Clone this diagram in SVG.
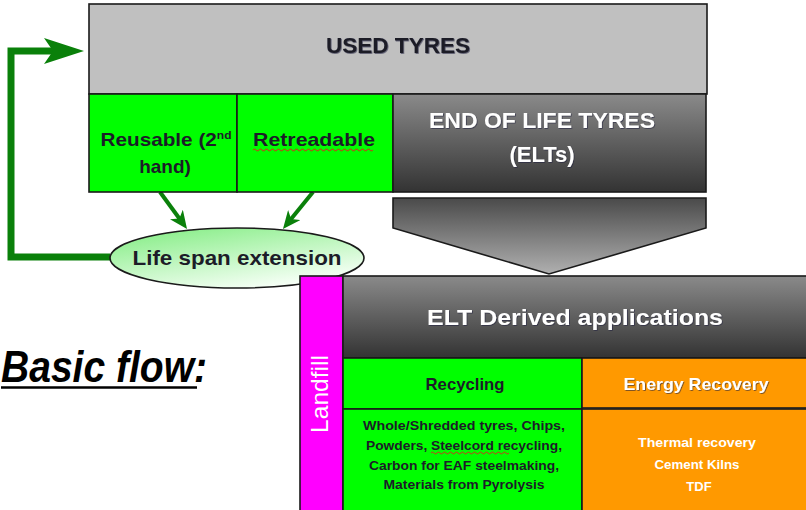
<svg xmlns="http://www.w3.org/2000/svg" width="806" height="510" viewBox="0 0 806 510">
<style>
.b{stroke:#1a1a1a;stroke-width:1.6}
.t{font-family:"Liberation Sans",Arial,sans-serif;font-weight:bold;text-anchor:middle}
.dk{fill:#1c1c28}
.wh{fill:#ffffff}
.conn{fill:none;stroke:#0a800a}
</style>
<defs>
<linearGradient id="gDark" x1="0" y1="0" x2="0" y2="1">
<stop offset="0" stop-color="#8a8a8a"/><stop offset="1" stop-color="#333333"/>
</linearGradient>
<linearGradient id="gChev" x1="0" y1="0" x2="0" y2="1">
<stop offset="0" stop-color="#4a4a4a"/><stop offset="1" stop-color="#b0b0b0"/>
</linearGradient>
<linearGradient id="gEll" x1="0" y1="0" x2="0.6" y2="1">
<stop offset="0" stop-color="#7eec7e"/><stop offset="1" stop-color="#f6fff6"/>
</linearGradient>
<filter id="sh" x="-10%" y="-30%" width="120%" height="160%">
<feDropShadow dx="0.8" dy="0.8" stdDeviation="0.6" flood-color="#202040" flood-opacity="0.7"/>
</filter>
<marker id="ah" markerUnits="userSpaceOnUse" markerWidth="18" markerHeight="16" viewBox="0 0 18 16" refX="10" refY="8" orient="auto">
<path d="M0,0 L18,8 L0,16 L5,8 z" fill="#0a800a"/>
</marker>
</defs>

<g id="connectors">
<path class="conn" d="M110,257 H11 V51 H54" stroke-width="7"/>
<polygon points="44,38 84,51 44,64 53,51" fill="#0a800a"/>
<line class="conn" x1="160" y1="192" x2="182.3" y2="222.5" stroke-width="4" marker-end="url(#ah)"/>
<line class="conn" x1="313" y1="192" x2="288" y2="222.8" stroke-width="4" marker-end="url(#ah)"/>
</g>

<g id="used-tyres">
<rect class="b" x="89" y="4" width="618" height="90" fill="#c0c0c0"/>
<text class="t dk" x="398" y="53" font-size="22" textLength="144" lengthAdjust="spacingAndGlyphs" filter="url(#sh)">USED TYRES</text>
</g>

<g id="reusable">
<rect class="b" x="89" y="94" width="148" height="98" fill="#00ff00"/>
<text class="t dk" x="166" y="146" font-size="19" textLength="131" lengthAdjust="spacingAndGlyphs">Reusable (2<tspan font-size="11" dy="-7">nd</tspan></text>
<text class="t dk" x="165" y="173" font-size="19">hand)</text>
</g>

<g id="retreadable">
<rect class="b" x="237" y="94" width="156" height="98" fill="#00ff00"/>
<text class="t dk" x="314" y="146" font-size="19" textLength="122" lengthAdjust="spacingAndGlyphs">Retreadable</text>
<path d="M253,150 q1.5,-2 3,0 t3,0 t3,0 t3,0 t3,0 t3,0 t3,0 t3,0 t3,0 t3,0 t3,0 t3,0 t3,0 t3,0 t3,0 t3,0 t3,0 t3,0 t3,0 t3,0 t3,0 t3,0 t3,0 t3,0 t3,0 t3,0 t3,0 t3,0 t3,0 t3,0 t3,0 t3,0 t3,0 t3,0 t3,0 t3,0 t3,0 t3,0 t3,0 t3,0" fill="none" stroke="#e02020" stroke-width="1"/>
</g>

<g id="elt">
<rect class="b" x="393" y="94" width="313" height="98" fill="url(#gDark)"/>
<text class="t wh" x="542" y="128" font-size="22" textLength="226" lengthAdjust="spacingAndGlyphs" filter="url(#sh)">END OF LIFE TYRES</text>
<text class="t wh" x="542" y="162" font-size="22" filter="url(#sh)">(ELTs)</text>
</g>

<g id="chevron">
<polygon class="b" points="393,198 706,198 706,228 549,274 393,228" fill="url(#gChev)"/>
</g>

<g id="life-span">
<ellipse class="b" cx="237" cy="258" rx="127" ry="30" fill="url(#gEll)" stroke-width="2"/>
<text class="t dk" x="237" y="265" font-size="21" textLength="209" lengthAdjust="spacingAndGlyphs">Life span extension</text>
</g>

<g id="landfill">
<rect class="b" x="300" y="276" width="43" height="240" fill="#ff00ff"/>
<text transform="translate(328,394) rotate(-90)" x="0" y="0" font-family="'Liberation Sans',Arial,sans-serif" font-size="24" fill="#ffffff" text-anchor="middle" textLength="78" lengthAdjust="spacingAndGlyphs">Landfill</text>
</g>

<g id="elt-derived">
<rect class="b" x="343" y="276" width="470" height="82" fill="url(#gDark)"/>
<text class="t wh" x="575" y="325" font-size="22" textLength="296" lengthAdjust="spacingAndGlyphs" filter="url(#sh)">ELT Derived  applications</text>
</g>

<g id="recycling">
<rect class="b" x="343" y="358" width="239" height="51" fill="#00ff00"/>
<text class="t dk" x="465" y="390" font-size="17" textLength="79" lengthAdjust="spacingAndGlyphs">Recycling</text>
</g>

<g id="recycling-items">
<rect class="b" x="343" y="409" width="239" height="106" fill="#00ff00"/>
<text class="t dk" x="464" y="430" font-size="13" textLength="202" lengthAdjust="spacingAndGlyphs">Whole/Shredded  tyres, Chips,</text>
<text class="t dk" x="464" y="450" font-size="13" textLength="196" lengthAdjust="spacingAndGlyphs">Powders, Steelcord recycling,</text>
<path d="M431,453 q1.5,-2 3,0 t3,0 t3,0 t3,0 t3,0 t3,0 t3,0 t3,0 t3,0 t3,0 t3,0 t3,0 t3,0 t3,0 t3,0 t3,0 t3,0 t3,0 t3,0 t3,0 t3,0 t3,0 t3,0 t3,0 t3,0 t3,0" fill="none" stroke="#e02020" stroke-width="0.9"/>
<text class="t dk" x="464" y="470" font-size="13" textLength="190" lengthAdjust="spacingAndGlyphs">Carbon for EAF steelmaking,</text>
<text class="t dk" x="464" y="489" font-size="13" textLength="161" lengthAdjust="spacingAndGlyphs">Materials from Pyrolysis</text>
</g>

<g id="energy-recovery">
<rect class="b" x="582" y="358" width="231" height="50" fill="#ff9900"/>
<text class="t wh" x="696" y="390" font-size="17" textLength="145" lengthAdjust="spacingAndGlyphs" filter="url(#sh)">Energy Recovery</text>
</g>

<g id="energy-items">
<rect class="b" x="582" y="409" width="231" height="106" fill="#ff9900"/>
<text class="t wh" x="697" y="447" font-size="13" textLength="118" lengthAdjust="spacingAndGlyphs">Thermal recovery</text>
<text class="t wh" x="697" y="469" font-size="13" textLength="85" lengthAdjust="spacingAndGlyphs">Cement Kilns</text>
<text class="t wh" x="699" y="491" font-size="13">TDF</text>
</g>

<g id="title">
<text x="1" y="382" font-family="'Liberation Sans',Arial,sans-serif" font-weight="bold" font-style="italic" font-size="44" fill="#000" textLength="206" lengthAdjust="spacingAndGlyphs">Basic  flow:</text>
<line x1="1" y1="387.5" x2="197" y2="387.5" stroke="#000" stroke-width="2.5"/>
</g>
</svg>
